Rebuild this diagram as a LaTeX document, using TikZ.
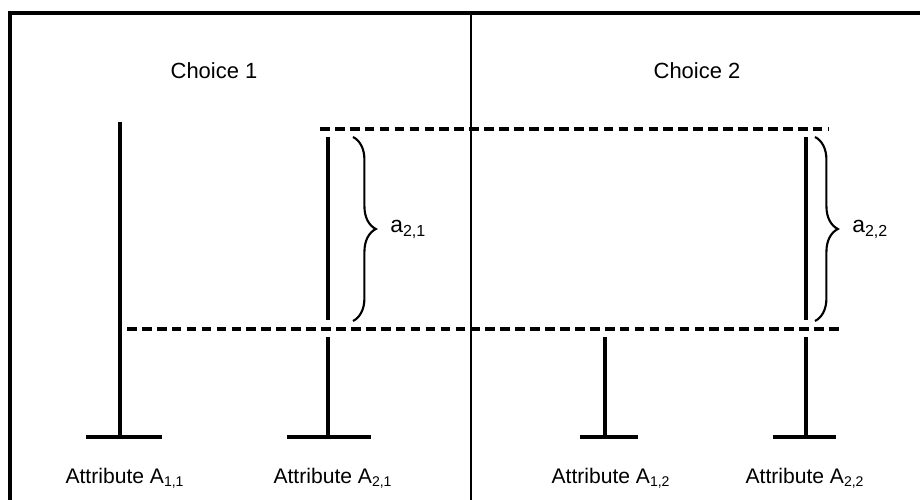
\documentclass[tikz,border=0pt]{standalone}
\usepackage{fontspec}
\setmainfont{Liberation Sans}
\usetikzlibrary{decorations.pathreplacing}

\begin{document}
\begin{tikzpicture}[
    x=0.02cm, y=-0.02cm,
    frame/.style={line width=2pt},
    divider/.style={line width=1.4pt},
    bar/.style={line width=1.9pt},
    guide/.style={line width=1.8pt, dash pattern=on 5.5pt off 3pt},
    brc/.style={decorate, decoration={brace, amplitude=13pt}, line width=1.2pt},
    lbl/.style={font=\fontsize{12}{14}\selectfont, inner sep=0pt, anchor=base},
    val/.style={font=\fontsize{13}{15}\selectfont, inner sep=0pt, anchor=base west},
    title/.style={font=\fontsize{12.5}{15}\selectfont, inner sep=0pt}
  ]
  \useasboundingbox (0,0) rectangle (920,500);

  % frame and divider
  \draw[frame] (10,500) -- (10,13) -- (920,13);
  \draw[divider] (471,13) -- (471,500);

  \node[title] (choice1) at (214,71) {Choice 1};
  \node[title] (choice2) at (697,71) {Choice 2};

  % dashed guides
  \draw[guide] (320,129) -- (828,129);
  \draw[guide] (127,329) -- (840,329);

  % attribute bars
  \draw[bar] (120,122) -- (120,437);
  \draw[bar] (86,437) -- (162,437);
  \draw[bar] (328,137) -- (328,320) (328,337) -- (328,437);
  \draw[bar] (287,437) -- (371,437);
  \draw[bar] (605,337) -- (605,437);
  \draw[bar] (580,437) -- (638,437);
  \draw[bar] (806,137) -- (806,320) (806,337) -- (806,437);
  \draw[bar] (773,437) -- (836,437);

  % braces
  \draw[brc] (353,137) -- (353,321);
  \draw[brc] (815,137) -- (815,321);
  \node[val] (a21) at (390,233) {a\textsubscript{2,1}};
  \node[val] (a22) at (852,233) {a\textsubscript{2,2}};

  % labels
  \node[lbl] (attr11) at (125,483) {Attribute A\textsubscript{1,1}};
  \node[lbl] (attr21) at (333,483) {Attribute A\textsubscript{2,1}};
  \node[lbl] (attr12) at (611,483) {Attribute A\textsubscript{1,2}};
  \node[lbl] (attr22) at (805,483) {Attribute A\textsubscript{2,2}};
\end{tikzpicture}
\end{document}
